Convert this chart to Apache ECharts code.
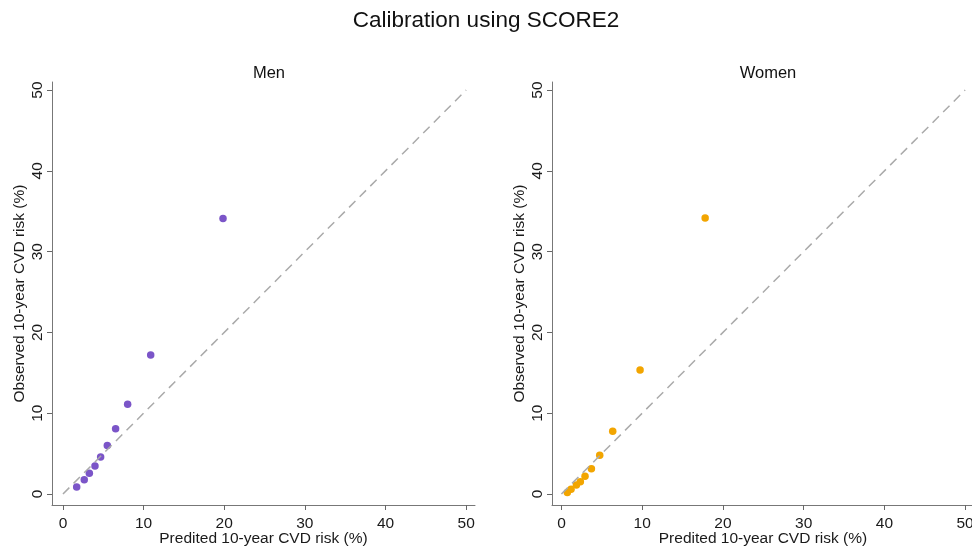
<!DOCTYPE html>
<html><head><meta charset="utf-8">
<script src="https://cdn.jsdelivr.net/npm/echarts@6/dist/echarts.min.js"></script>
<style>html,body{margin:0;padding:0;background:#fff}#c{width:972px;height:550px}</style>
</head><body><div id="c"></div>
<script>
const panelTitles = ['Men', 'Women'];
const tickValues = [0, 10, 20, 30, 40, 50];
const menPredicted = [1.7, 2.64, 3.27, 3.97, 4.67, 5.5, 6.53, 8.02, 10.88, 19.85];
const menObserved  = [0.87, 1.77, 2.56, 3.47, 4.58, 6.0, 8.08, 11.1, 17.2, 34.1];
const womenPredicted = [0.73, 1.19, 1.85, 2.34, 2.92, 3.71, 4.74, 6.35, 9.74, 17.8];
const womenObserved  = [0.2, 0.58, 1.11, 1.52, 2.19, 3.13, 4.79, 7.76, 15.35, 34.16];
const refLine = [[0, 0], [50, 50]];

const font = 'Liberation Sans, Arial, sans-serif';
const chart = echarts.init(document.getElementById('c'));

function xAx(i, min) {
  return {
    gridIndex: i, type: 'value', min: min, max: 51.1, interval: 10,
    name: 'Predited 10-year CVD risk (%)', nameLocation: 'middle', nameGap: 26, nameMoveOverlap: false,
    nameTextStyle: {color: '#1a1a1a', fontSize: 15.5, fontFamily: font},
    axisLine: {show: true, onZero: false, lineStyle: {color: '#777', width: 1}},
    axisTick: {show: true, length: 5, lineStyle: {color: '#666'}, customValues: tickValues},
    axisLabel: {color: '#1a1a1a', fontSize: 15.5, fontFamily: font, margin: 11, customValues: tickValues},
    splitLine: {show: false}
  };
}
function yAx(i) {
  return {
    gridIndex: i, type: 'value', min: -1.36, max: 51.0,
    name: 'Observed 10-year CVD risk (%)', nameLocation: 'middle', nameGap: 24, nameMoveOverlap: false,
    nameTextStyle: {color: '#1a1a1a', fontSize: 15.5, fontFamily: font},
    axisLine: {show: true, onZero: false, lineStyle: {color: '#777', width: 1}},
    axisTick: {show: true, length: 5, lineStyle: {color: '#666'}, customValues: tickValues},
    axisLabel: {color: '#1a1a1a', fontSize: 15.5, fontFamily: font, rotate: 90, margin: 6, customValues: tickValues},
    splitLine: {show: false}
  };
}
function zip(a, b) { return a.map((v, i) => [v, b[i]]); }

chart.setOption({
  backgroundColor: '#fff',
  animation: false,
  title: [
    {text: 'Calibration using SCORE2', left: 'center', top: 4, textStyle: {fontSize: 22.5, fontWeight: 'normal', color: '#111', fontFamily: font}},
    {text: panelTitles[0], left: 264, top: 60, textAlign: 'center', textStyle: {fontSize: 16.5, fontWeight: 'normal', color: '#111', fontFamily: font}},
    {text: panelTitles[1], left: 763, top: 60, textAlign: 'center', textStyle: {fontSize: 16.5, fontWeight: 'normal', color: '#111', fontFamily: font}}
  ],
  grid: [
    {left: 52, top: 82, width: 423, height: 423, containLabel: false, outerBoundsMode: 'none'},
    {left: 552, top: 82, width: 422, height: 423, containLabel: false, outerBoundsMode: 'none'}
  ],
  xAxis: [xAx(0, -1.36), xAx(1, -1.17)],
  yAxis: [yAx(0), yAx(1)],
  series: [
    {type: 'line', xAxisIndex: 0, yAxisIndex: 0, data: refLine, symbol: 'none', silent: true,
      lineStyle: {color: '#aaa', width: 1.5, type: [9, 6]}},
    {type: 'line', xAxisIndex: 1, yAxisIndex: 1, data: refLine, symbol: 'none', silent: true,
      lineStyle: {color: '#aaa', width: 1.5, type: [9, 6]}},
    {type: 'scatter', xAxisIndex: 0, yAxisIndex: 0, data: zip(menPredicted, menObserved),
      symbolSize: 7.5, itemStyle: {color: '#7b55c8', opacity: 1}},
    {type: 'scatter', xAxisIndex: 1, yAxisIndex: 1, data: zip(womenPredicted, womenObserved),
      symbolSize: 7.5, itemStyle: {color: '#f2a500', opacity: 1}}
  ]
});
</script></body></html>
